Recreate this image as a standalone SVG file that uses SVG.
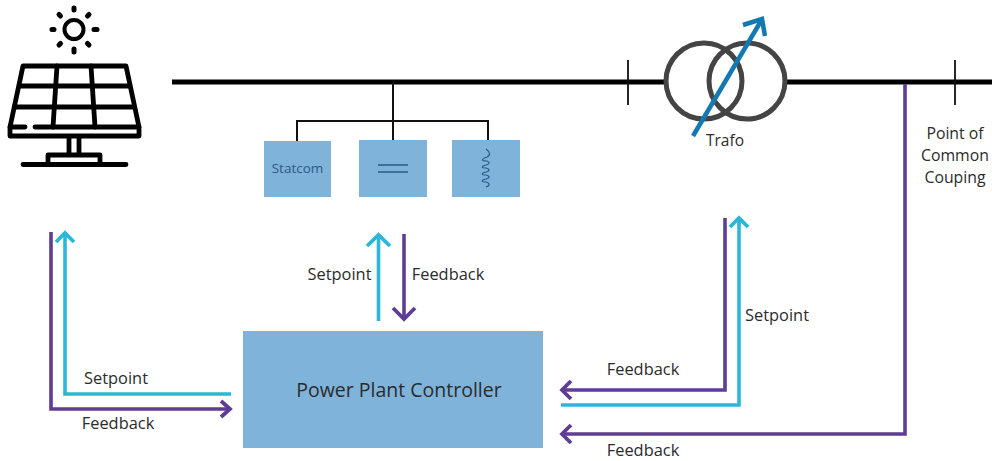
<svg xmlns="http://www.w3.org/2000/svg" width="992" height="461" viewBox="0 0 992 461">
<style>
text{font-family:"Open Sans","Liberation Sans",sans-serif;fill:#2b2b2b;font-size:16.400px}
.k{fill:none;stroke:#000;stroke-linecap:round;stroke-linejoin:round}
.box{fill:#7fb3da}
.p,.c{fill:none;stroke-width:3.600;stroke-linejoin:miter}
.p{stroke:#5f3d94}
.c{stroke:#2bb8d8}
.h{fill:none;stroke-width:3.800;stroke-linecap:butt;stroke-linejoin:miter}
</style>
<rect width="992" height="461" fill="#fff"/>
<g id="solar">
<g class="k" stroke-width="4">
<circle cx="74" cy="29.500" r="9.500"/>
</g>
<g class="k" stroke-width="5">
<path d="M74 8V10M74 49V52M52 29.500H54M94 29.500H97M59 14.500L60.500 16M89 14.500L87.500 16M59 45L60.500 43.500M89 45L87.500 43.500"/>
</g>
<g class="k" stroke-width="4.800">
<path d="M23 66H126L139 127V136H10V127Z"/>
<path d="M10 127H25M35 127H139"/>
<path d="M20 86H129M16 107H133M57 66L53 127M91 66L95 127"/>
<path d="M69 137V154M79 137V154M48 163V155H100V163M23 164.500H126"/>
</g>
</g>
<g id="connectors">
<path d="M172 82H664M786 82H992" fill="none" stroke="#000" stroke-width="5"/>
<path d="M628 60V105M955 60V105" fill="none" stroke="#111" stroke-width="1.800"/>
<path d="M393 82V140M297 141V121H488V140" fill="none" stroke="#111" stroke-width="2"/>
<path class="p" d="M51 232V409H229"/>
<path class="h" stroke="#5f3d94" d="M221 401L230 409L221 417"/>
<path class="c" d="M231 394H65V235"/>
<path class="h" stroke="#2bb8d8" d="M56 242L65 233L74 242"/>
<path class="c" d="M378.500 321V236"/>
<path class="h" stroke="#2bb8d8" d="M367 246L378.500 235L390 246"/>
<path class="p" d="M404 234V319"/>
<path class="h" stroke="#5f3d94" d="M393 308L404 319L415 308"/>
<path class="p" d="M725 218V390H563"/>
<path class="h" stroke="#5f3d94" d="M571 381L562 390L571 399"/>
<path class="c" d="M561 405H739V220"/>
<path class="h" stroke="#2bb8d8" d="M730 227L739 218L748 227"/>
<path class="p" d="M905 84V434H563"/>
<path class="h" stroke="#5f3d94" d="M571 425L562 434L571 443"/>
</g>
<g id="statcom"><rect class="box" x="264" y="141" width="67" height="56"/><text x="297.500" y="173" text-anchor="middle" style="font-size:13.500px;fill:#2c5a86">Statcom</text></g>
<g id="capacitor"><rect class="box" x="359" y="140" width="68" height="57"/><path d="M378 165H408M378 172H408" fill="none" stroke="#2c5a86" stroke-width="1.300"/></g>
<g id="inductor"><rect class="box" x="452" y="140" width="68" height="57"/><path d="M486 149C490 152 491 155 487 157C481 159 481 161 487 161C490 162 490 164 486 165C481 166 481 168 486 168C490 169 490 171 486 172C481 173 481 175 486 175C490 176 490 178 486 179C481 180 481 182 486 182C490 183 490 186 486 187" fill="none" stroke="#2c5a86" stroke-width="1.200"/></g>
<g id="controller"><rect class="box" x="243" y="331" width="300" height="117"/><text x="399" y="397" text-anchor="middle" style="font-size:19.500px">Power Plant Controller</text></g>
<g id="trafo">
<circle cx="704" cy="81" r="38" fill="none" stroke="#444" stroke-width="5"/>
<circle cx="747" cy="81" r="38" fill="none" stroke="#444" stroke-width="5"/>
<path d="M693 136L761 21" fill="none" stroke="#1479b0" stroke-width="4.500"/>
<path d="M743 25L762 19L765 36" fill="none" stroke="#1479b0" stroke-width="4.500"/>
<text x="725" y="146" text-anchor="middle" style="font-size:15.500px">Trafo</text>
</g>
<g id="labels">
<text x="955" y="139" text-anchor="middle" style="font-size:15.800px">Point of</text>
<text x="955" y="161" text-anchor="middle" style="font-size:15.800px">Common</text>
<text x="955" y="183" text-anchor="middle" style="font-size:15.800px">Couping</text>
<text x="339.500" y="280" text-anchor="middle">Setpoint</text>
<text x="448" y="280" text-anchor="middle">Feedback</text>
<text x="777" y="321" text-anchor="middle">Setpoint</text>
<text x="643" y="375" text-anchor="middle">Feedback</text>
<text x="643" y="456" text-anchor="middle">Feedback</text>
<text x="116" y="384" text-anchor="middle">Setpoint</text>
<text x="118" y="429" text-anchor="middle">Feedback</text>
</g>
</svg>
